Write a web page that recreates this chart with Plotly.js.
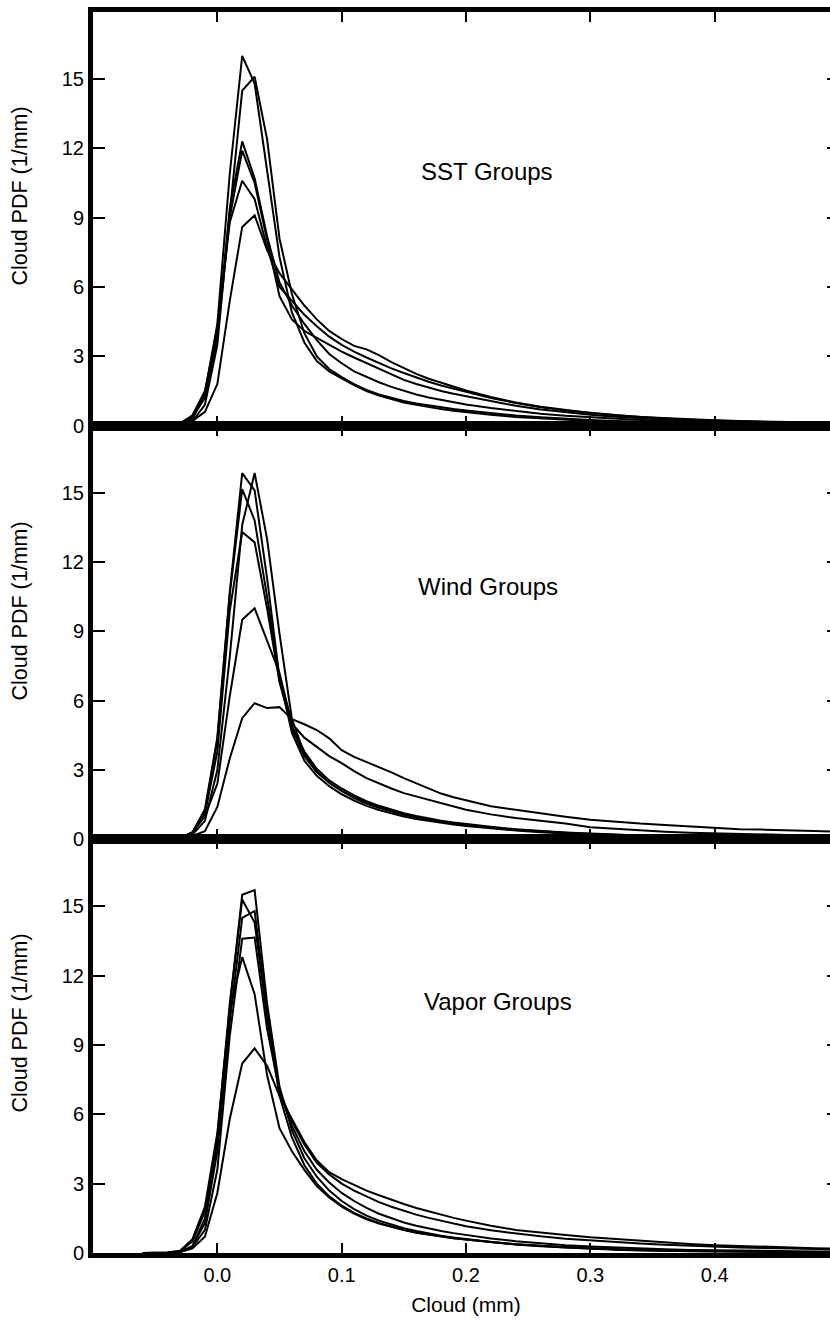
<!DOCTYPE html>
<html>
<head>
<meta charset="utf-8">
<script src="https://cdn.plot.ly/plotly-3.0.1.min.js"></script>
<style>
html,body{margin:0;padding:0;background:#fff;overflow:hidden;}
#chart{width:840px;height:1330px;}
</style>
</head>
<body>
<div id="chart"></div>
<script>
// Cloud liquid water (mm) sample points
const cloud = [-0.06,-0.05,-0.04,-0.03,-0.02,-0.01,0.00,0.01,0.02,0.03,0.04,0.05,0.06,0.07,0.08,0.09,0.10,0.11,0.12,0.13,0.14,0.15,0.16,0.17,0.18,0.19,0.20,0.22,0.24,0.26,0.28,0.30,0.32,0.34,0.36,0.38,0.40,0.42,0.44,0.46,0.48,0.50];

// SST groups
const sstA = [0,0,0.01,0.06,0.3,1.4,4.4,10.9,16.0,14.8, 11.0,7.3,4.9,3.6,2.8,2.35,2.05,1.75,1.5,1.3, 1.15,1.0,0.9,0.8,0.72,0.65,0.58, 0.47,0.38,0.31,0.25,0.2, 0.17,0.14,0.12,0.1,0.08, 0.07,0.06,0.05,0.04,0.04];
const sstB = [0,0,0.01,0.04,0.2,0.9,3.5,9.2,14.5,15.1, 12.4,8.1,5.7,4.0,3.0,2.45,2.1,1.8,1.55,1.35, 1.2,1.07,0.96,0.87,0.79,0.72,0.66, 0.54,0.44,0.36,0.29,0.24, 0.2,0.16,0.13,0.11,0.09, 0.08,0.07,0.06,0.05,0.05];
const sstC = [0,0,0.02,0.08,0.4,1.3,4.0,9.4,12.3,10.7, 8.2,6.2,5.2,4.4,3.7,3.1,2.7,2.35,2.1,1.88, 1.68,1.5,1.35,1.22,1.11,1.01,0.92, 0.76,0.63,0.52,0.43,0.36, 0.3,0.25,0.21,0.18,0.15, 0.13,0.11,0.1,0.09,0.08];
const sstD = [0,0,0.02,0.07,0.35,1.2,3.8,9.0,11.9,10.5, 8.0,5.6,4.6,4.1,3.8,3.5,3.2,2.95,2.7,2.45, 2.2,1.98,1.8,1.64,1.5,1.38,1.27, 1.05,0.86,0.7,0.57,0.47, 0.39,0.32,0.27,0.23,0.2, 0.17,0.15,0.13,0.12,0.11];
const sstE = [0,0,0.02,0.1,0.45,1.5,4.2,8.8,10.6,9.8, 7.7,6.0,5.4,4.8,4.3,3.85,3.5,3.2,2.95,2.7, 2.48,2.28,2.08,1.9,1.74,1.6,1.47, 1.2,0.98,0.8,0.66,0.55, 0.46,0.38,0.32,0.27,0.23, 0.2,0.17,0.15,0.14,0.13];
const sstF = [0,0,0.01,0.05,0.2,0.6,1.8,5.4,8.6,9.1, 7.6,6.6,5.9,5.2,4.6,4.1,3.75,3.45,3.3,3.05, 2.75,2.48,2.24,2.03,1.85,1.68,1.52, 1.24,1.0,0.82,0.67,0.55, 0.45,0.37,0.31,0.26,0.22, 0.19,0.16,0.14,0.13,0.12];

// Wind groups
const windA = [0,0,0.01,0.05,0.3,1.3,4.4,10.7,15.85,15.1, 11.3,7.0,4.6,3.4,2.75,2.3,1.95,1.68,1.45,1.27, 1.12,0.99,0.88,0.79,0.71,0.64,0.58, 0.47,0.38,0.31,0.25,0.2, 0.16,0.13,0.11,0.09,0.08, 0.07,0.06,0.05,0.04,0.04];
const windB = [0,0,0.01,0.05,0.3,1.2,4.3,10.6,15.15,13.8, 10.5,7.0,4.8,3.6,2.9,2.45,2.1,1.8,1.55,1.36, 1.2,1.06,0.95,0.85,0.76,0.69,0.62, 0.5,0.41,0.33,0.27,0.22, 0.18,0.15,0.12,0.1,0.09, 0.08,0.07,0.06,0.05,0.05];
const windC = [0,0,0.02,0.06,0.3,1.1,3.8,9.9,13.3,12.85, 10.0,6.8,4.9,3.8,3.05,2.55,2.2,1.9,1.65,1.45, 1.28,1.13,1.01,0.9,0.81,0.73,0.66, 0.54,0.44,0.36,0.3,0.25, 0.2,0.17,0.14,0.12,0.1, 0.09,0.08,0.07,0.06,0.05];
const windD = [0,0,0.01,0.04,0.2,0.8,3.0,7.9,13.6,15.85, 13.0,8.9,5.2,3.7,2.95,2.45,2.1,1.82,1.58,1.38, 1.22,1.08,0.96,0.86,0.77,0.7,0.63, 0.51,0.42,0.34,0.28,0.23, 0.19,0.16,0.13,0.11,0.09, 0.08,0.07,0.06,0.05,0.05];
const windE = [0,0,0.02,0.06,0.3,1.0,2.4,6.2,9.5,10.0, 8.6,7.2,5.0,4.4,4.0,3.6,3.3,2.95,2.65,2.42, 2.2,2.0,1.85,1.7,1.55,1.4,1.28, 1.08,0.92,0.8,0.68,0.52, 0.45,0.38,0.33,0.29,0.26, 0.23,0.2,0.18,0.16,0.15];
const windF = [0,0,0.01,0.04,0.15,0.35,1.4,3.5,5.24,5.89, 5.68,5.72,5.2,4.98,4.73,4.37,3.86,3.57,3.35,3.14, 2.9,2.65,2.42,2.2,1.98,1.82,1.69, 1.43,1.28,1.12,0.98,0.85, 0.76,0.68,0.62,0.56,0.48, 0.44,0.42,0.4,0.36,0.32];

// Vapor groups
const vapA = [0,0,0.01,0.05,0.3,1.5,4.8,10.6,15.5,15.7, 10.8,7.2,5.3,4.1,3.3,2.7,2.25,1.9,1.62,1.4, 1.22,1.07,0.95,0.84,0.75,0.67,0.6, 0.48,0.38,0.3,0.24,0.19, 0.15,0.12,0.1,0.08,0.07, 0.06,0.05,0.04,0.04,0.03];
const vapB = [0,0,0.02,0.08,0.5,1.8,5.0,10.8,15.3,14.3, 10.2,6.8,5.0,3.8,3.0,2.45,2.05,1.74,1.5,1.3, 1.14,1.0,0.89,0.8,0.72,0.64,0.58, 0.46,0.37,0.29,0.23,0.18, 0.14,0.11,0.09,0.08,0.07, 0.06,0.05,0.04,0.04,0.03];
const vapC = [0,0,0.01,0.05,0.3,1.3,4.4,10.0,14.5,14.8, 10.4,7.0,5.5,4.4,3.6,3.05,2.6,2.25,1.95,1.7, 1.5,1.32,1.18,1.06,0.95,0.86,0.78, 0.63,0.51,0.42,0.34,0.28, 0.23,0.19,0.16,0.13,0.11, 0.1,0.09,0.08,0.07,0.06];
const vapD = [0,0,0.01,0.04,0.25,1.0,3.6,9.4,13.6,13.65, 9.7,7.0,5.7,4.7,3.9,3.4,3.0,2.7,2.45,2.2, 2.0,1.82,1.66,1.52,1.39,1.27,1.16, 0.98,0.84,0.72,0.62,0.54, 0.47,0.41,0.36,0.31,0.27, 0.24,0.22,0.2,0.18,0.16];
const vapE = [0,0,0.02,0.1,0.6,2.0,5.2,10.5,12.8,11.2, 7.7,5.4,4.4,3.6,2.9,2.4,2.0,1.7,1.46,1.27, 1.12,0.99,0.88,0.79,0.71,0.64,0.58, 0.47,0.38,0.31,0.25,0.2, 0.16,0.13,0.11,0.09,0.08, 0.07,0.06,0.05,0.04,0.04];
const vapF = [0,0,0.01,0.04,0.2,0.7,2.6,5.8,8.2,8.85, 8.1,6.8,5.8,4.8,4.0,3.5,3.2,2.95,2.7,2.5, 2.3,2.12,1.95,1.8,1.65,1.52,1.4, 1.18,1.0,0.88,0.78,0.68, 0.6,0.52,0.45,0.39,0.34, 0.3,0.27,0.24,0.21,0.19];

const panelNames = ["SST Groups","Wind Groups","Vapor Groups"];
const panels = [
  [sstA,sstB,sstC,sstD,sstE,sstF],
  [windA,windB,windC,windD,windE,windF],
  [vapA,vapB,vapC,vapD,vapE,vapF]
];
const xTickVals = [-0.1,0.0,0.1,0.2,0.3,0.4,0.5];
const xTickText = ["","0.0","0.1","0.2","0.3","0.4",""];
const yTickVals = [0,3,6,9,12,15];
const yTitle = "Cloud PDF (1/mm)";
const xTitle = "Cloud (mm)";

const FONT = "Liberation Sans, Arial, Helvetica, sans-serif";
const traces = [];
panels.forEach((group, p) => {
  const sfx = p === 0 ? "" : String(p + 1);
  group.forEach(series => {
    traces.push({
      x: cloud, y: series, type: "scatter", mode: "lines",
      xaxis: "x" + sfx, yaxis: "y" + sfx,
      line: {color: "#000", width: 2},
      showlegend: false, hoverinfo: "skip"
    });
  });
});

const domains = [[2/3, 1], [1/3, 2/3], [0, 1/3]];
const layout = {
  width: 840, height: 1330,
  margin: {l: 93, r: 1, t: 12, b: 77},
  paper_bgcolor: "#fff", plot_bgcolor: "#fff",
  font: {family: FONT, color: "#000", size: 20},
  showlegend: false,
  annotations: []
};
const titleY = [0.852, 0.5176, 0.1856];
const labelPos = [[0.217, 11.0], [0.218, 10.95], [0.226, 10.9]];
for (let p = 0; p < 3; p++) {
  const sfx = p === 0 ? "" : String(p + 1);
  layout["xaxis" + sfx] = {
    range: [-0.1, 0.5], anchor: "y" + sfx, domain: [0, 1],
    tickmode: "array", tickvals: xTickVals, ticktext: xTickText,
    ticks: "inside", ticklen: 10, tickwidth: 2, tickcolor: "#000",
    showline: true, linewidth: 5, linecolor: "#000", mirror: "ticks",
    showgrid: false, zeroline: false,
    showticklabels: p === 2,
    tickfont: {family: FONT, size: 20, color: "#000"},
    title: p === 2 ? {text: xTitle, font: {family: FONT, size: 21, color: "#000"}, standoff: 14} : {text: ""}
  };
  layout["yaxis" + sfx] = {
    range: [0, 17.9], anchor: "x" + sfx, domain: domains[p],
    tickmode: "array", tickvals: yTickVals,
    ticks: "inside", ticklen: 12, tickwidth: 2, tickcolor: "#000",
    showline: true, linewidth: 5, linecolor: "#000", mirror: "ticks",
    showgrid: false, zeroline: false,
    tickfont: {family: FONT, size: 20, color: "#000"}
  };
  layout.annotations.push({
    xref: "paper", yref: "paper", x: -0.098, y: titleY[p],
    xanchor: "center", yanchor: "middle", textangle: -90,
    text: yTitle, showarrow: false,
    font: {family: FONT, size: 21.5, color: "#000"}
  });
  layout.annotations.push({
    xref: "x" + sfx, yref: "y" + sfx, x: labelPos[p][0], y: labelPos[p][1],
    xanchor: "center", yanchor: "middle",
    text: panelNames[p], showarrow: false,
    font: {family: FONT, size: 24, color: "#000"}
  });
}

Plotly.newPlot("chart", traces, layout, {staticPlot: true, displayModeBar: false});
</script>
</body>
</html>
